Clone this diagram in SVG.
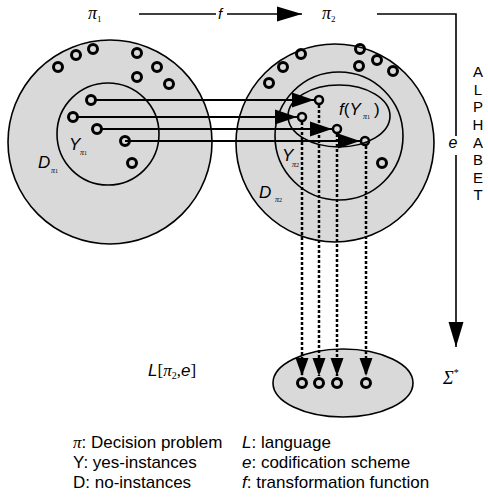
<svg xmlns="http://www.w3.org/2000/svg" width="488" height="498" viewBox="0 0 488 498">
<style>
.big{fill:#d9d9d9;stroke:#000;stroke-width:1.6}
.ring{fill:none;stroke:#000;stroke-width:1.6}
.pt{fill:none;stroke:#000;stroke-width:3}
.tp{fill:none;stroke:#000;stroke-width:2.5}
.sans{font-family:"Liberation Sans",Arial,sans-serif;fill:#000}
.ser{font-family:"Liberation Serif","Times New Roman",serif;fill:#000}
.it{font-style:italic}
.lab{font-size:17px}
.sub{font-size:8px}
.leg{font-size:17px}
.harr{stroke:#000;stroke-width:2.2;fill:none;marker-end:url(#hh)}
.varr{stroke:#000;stroke-width:2.5;stroke-dasharray:3,2;fill:none;marker-end:url(#vh)}
.thin{stroke:#000;stroke-width:1.6;fill:none}
</style>
<defs>
<marker id="hh" markerUnits="userSpaceOnUse" markerWidth="24" markerHeight="16" refX="22" refY="7.5" orient="auto" overflow="visible"><path d="M0,0 L22,7.5 L0,15 z" fill="#000"/></marker>
<marker id="vh" markerUnits="userSpaceOnUse" markerWidth="20" markerHeight="14" refX="18" refY="6.5" orient="auto" overflow="visible"><path d="M0,0 L18,6.5 L0,13 z" fill="#000"/></marker>
<marker id="big" markerUnits="userSpaceOnUse" markerWidth="26" markerHeight="16" refX="25" refY="7.5" orient="auto" overflow="visible"><path d="M0,0 L25,7.5 L0,15 z" fill="#000"/></marker>
</defs>

<g id="pi1"><text x="88" y="19" class="ser it" font-size="18">π<tspan font-size="9" dy="3" font-style="normal">1</tspan></text></g>
<g id="pi2"><text x="322" y="19" class="ser it" font-size="18">π<tspan font-size="9" dy="3" font-style="normal">2</tspan></text></g>

<g id="D1">
<circle class="big" cx="110" cy="142" r="102"/>
<circle cx="58" cy="67" r="4.5" class="pt"/>
<circle cx="76" cy="55" r="4.5" class="pt"/>
<circle cx="93" cy="49" r="4.5" class="pt"/>
<circle cx="137" cy="53" r="4.5" class="pt"/>
<circle cx="157" cy="67" r="4.5" class="pt"/>
<circle cx="137" cy="77" r="4.5" class="pt"/>
<circle cx="169" cy="84" r="4.5" class="pt"/>
<text x="38" y="168" class="sans it lab">D</text>
<text x="51" y="173" class="ser it sub">π<tspan font-size="6" font-style="normal">1</tspan></text>
</g>
<g id="Y1">
<circle class="ring" cx="108" cy="134" r="51"/>
<circle cx="91" cy="100" r="4.5" class="pt"/>
<circle cx="73" cy="117" r="4.5" class="pt"/>
<circle cx="97" cy="129" r="4.5" class="pt"/>
<circle cx="125" cy="141" r="4.5" class="pt"/>
<circle cx="132" cy="163" r="4.5" class="pt"/>
<text x="69" y="150" class="sans it lab">Y</text>
<text x="80" y="155" class="ser it sub">π<tspan font-size="6" font-style="normal">1</tspan></text>
</g>

<g id="D2">
<circle class="big" cx="335" cy="143" r="99"/>
<circle cx="269" cy="83" r="4.5" class="pt"/>
<circle cx="283" cy="67" r="4.5" class="pt"/>
<circle cx="301" cy="54" r="4.5" class="pt"/>
<circle cx="360" cy="49" r="4.5" class="pt"/>
<circle cx="359" cy="66" r="4.5" class="pt"/>
<circle cx="377" cy="60" r="4.5" class="pt"/>
<circle cx="393" cy="71" r="4.5" class="pt"/>
<circle cx="382" cy="163" r="4.5" class="pt"/>
<text x="259" y="198" class="sans it lab">D</text>
<text x="275" y="202" class="ser it sub">π<tspan font-size="6" font-style="normal">2</tspan></text>
</g>
<g id="Y2">
<circle class="ring" cx="339" cy="136" r="64"/>
<text x="282" y="161" class="sans it lab">Y</text>
<text x="292" y="167" class="ser it sub">π<tspan font-size="6" font-style="normal">2</tspan></text>
</g>
<g id="fY1">
<ellipse class="ring" cx="339" cy="116" rx="51" ry="31"/>
<circle cx="319" cy="100" r="4" class="tp"/>
<circle cx="302" cy="117" r="4" class="tp"/>
<circle cx="337" cy="129" r="4" class="tp"/>
<circle cx="365" cy="141" r="4" class="tp"/>
<text x="339" y="115" class="sans it lab">f<tspan font-style="normal">(</tspan>Y</text>
<text x="363" y="119" class="ser it sub">π<tspan font-size="6" font-style="normal">1</tspan></text>
<text x="374" y="115" class="sans lab">)</text>
</g>

<g id="sigma">
<ellipse class="big" cx="343" cy="383" rx="70" ry="34"/>
<circle cx="302" cy="383" r="4.5" class="pt"/>
<circle cx="319" cy="383" r="4.5" class="pt"/>
<circle cx="337" cy="383" r="4.5" class="pt"/>
<circle cx="366" cy="383" r="4.5" class="pt"/>
<text x="443" y="384" class="ser it" font-size="18">Σ<tspan font-size="10" dy="-8" font-style="normal">*</tspan></text>
</g>

<g id="alphabet" class="sans" font-size="15" text-anchor="middle">
<text x="478" y="77">A</text>
<text x="478" y="95">L</text>
<text x="478" y="112">P</text>
<text x="478" y="130">H</text>
<text x="478" y="148">A</text>
<text x="478" y="165">B</text>
<text x="478" y="183">E</text>
<text x="478" y="200">T</text>
</g>

<g id="language"><text x="148" y="376" class="sans it" font-size="17">L<tspan class="ser" font-style="normal">[</tspan><tspan class="ser">π</tspan><tspan class="ser" font-style="normal" font-size="10" dy="3">2</tspan><tspan class="ser" font-style="normal" dy="-3">,</tspan>e<tspan class="ser" font-style="normal">]</tspan></text></g>

<g id="connectors">
<line class="thin" x1="139" y1="14" x2="216" y2="14"/>
<text x="218" y="19" class="sans it" font-size="15">f</text>
<line class="thin" x1="227" y1="14" x2="302" y2="14" marker-end="url(#big)"/>
<polyline class="thin" points="377,14 456,14 456,136"/>
<text x="453" y="148" class="sans it" font-size="16" text-anchor="middle">e</text>
<line class="thin" x1="456" y1="155" x2="456" y2="347" marker-end="url(#big)"/>
<line class="harr" x1="96" y1="100" x2="314" y2="100"/>
<line class="harr" x1="78" y1="117" x2="297" y2="117"/>
<line class="harr" x1="102" y1="129" x2="332" y2="129"/>
<line class="harr" x1="125" y1="141" x2="360" y2="141"/>
<line class="varr" x1="302" y1="122" x2="302" y2="376"/>
<line class="varr" x1="319" y1="105" x2="319" y2="376"/>
<line class="varr" x1="337" y1="134" x2="337" y2="376"/>
<line class="varr" x1="366" y1="146" x2="366" y2="376"/>
</g>

<g id="legend" class="sans leg">
<text x="73" y="448"><tspan class="ser it">π</tspan>: Decision problem</text>
<text x="73" y="468">Y: yes-instances</text>
<text x="73" y="488">D: no-instances</text>
<text x="242" y="448"><tspan font-style="italic">L</tspan>: language</text>
<text x="242" y="468"><tspan font-style="italic">e</tspan>: codification scheme</text>
<text x="242" y="488"><tspan font-style="italic">f</tspan>: transformation function</text>
</g>
</svg>
